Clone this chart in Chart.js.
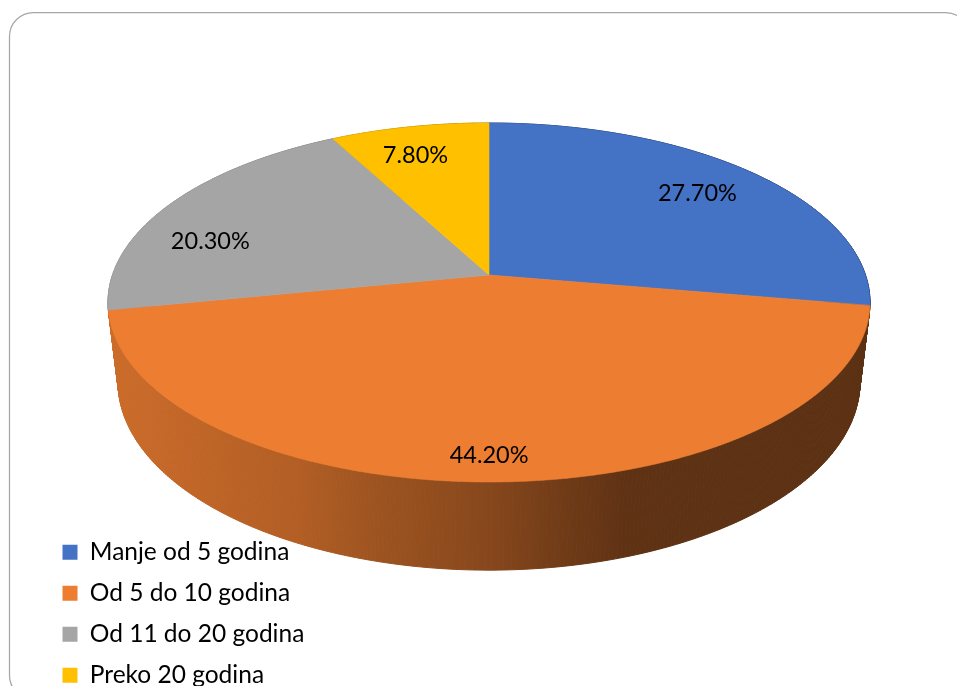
<!DOCTYPE html>
<html>
<head>
<meta charset="utf-8">
<script src="https://cdn.jsdelivr.net/npm/chart.js@4.4.1/dist/chart.umd.min.js"></script>
<style>
  html, body { margin: 0; padding: 0; background: #fff; overflow: hidden; }
</style>
</head>
<body>
<canvas id="staz" width="957" height="704"></canvas>
<script>
const categories = ["Manje od 5 godina", "Od 5 do 10 godina", "Od 11 do 20 godina", "Preko 20 godina"];
const shares = [27.7, 44.2, 20.3, 7.8];
const sliceColors = ["#4472C4", "#ED7D31", "#A5A5A5", "#FFC000"];

// tilted disc seen in perspective: top face and bottom face (canvas px)
const centerX = 489, tilt = -0.1532;
const topFace = { s: 376.5, a: 133.16, b: 275 };
const bottomFace = { s: 366.6, a: 129.7, b: 353.1 };

// where the % labels sit on the disc (radius fraction, angle nudge in deg)
const labelRadius = [0.78, 0.887, 0.787, 0.789];
const labelNudge = [0, 0.7, -11, -2];

// side wall shading, left to right (fraction of the slice colour)
const wallShade = [[0, 0.86], [0.25, 0.75], [0.36, 0.66], [0.5, 0.57], [0.6, 0.47], [0.68, 0.40], [1, 0.39]];

function project(face, u, v) {
  const w = 1 + tilt * v;
  return [centerX + face.s * u / w, (face.a * v + face.b) / w];
}

function darker(hex, f) {
  const n = parseInt(hex.slice(1), 16);
  const r = Math.round(((n >> 16) & 255) * f);
  const g = Math.round(((n >> 8) & 255) * f);
  const b = Math.round((n & 255) * f);
  return `rgb(${r},${g},${b})`;
}

const pie3d = {
  id: "pie3d",
  beforeDraw(chart) {
    const ctx = chart.ctx;
    ctx.save();
    ctx.strokeStyle = "#A6A6A6";
    ctx.lineWidth = 1.25;
    ctx.beginPath();
    ctx.roundRect(9.5, 12.5, 960, 687, 24);
    ctx.stroke();
    ctx.restore();
  },
  beforeDatasetsDraw(chart) {
    const ctx = chart.ctx;
    const arcs = chart.getDatasetMeta(0).data;
    const ds = chart.data.datasets[0];
    const half = topFace.s / Math.sqrt(1 - tilt * tilt);

    ctx.save();

    // side wall, back to front
    const walls = ds.backgroundColor.map(col => {
      const g = ctx.createLinearGradient(centerX - half, 0, centerX + half, 0);
      wallShade.forEach(([t, f]) => g.addColorStop(t, darker(col, f)));
      return g;
    });
    const quads = [];
    arcs.forEach((arc, i) => {
      const steps = Math.max(2, Math.ceil((arc.endAngle - arc.startAngle) / 0.01));
      const da = (arc.endAngle - arc.startAngle) / steps;
      for (let k = 0; k < steps; k++) {
        const a0 = arc.startAngle + k * da, a1 = a0 + da;
        quads.push({ i, a0, a1, depth: Math.sin(a0 + da / 2) });
      }
    });
    quads.sort((p, q) => p.depth - q.depth);
    ctx.lineWidth = 1;
    quads.forEach(q => {
      const t0 = project(topFace, Math.cos(q.a0), Math.sin(q.a0));
      const t1 = project(topFace, Math.cos(q.a1), Math.sin(q.a1));
      const b1 = project(bottomFace, Math.cos(q.a1), Math.sin(q.a1));
      const b0 = project(bottomFace, Math.cos(q.a0), Math.sin(q.a0));
      ctx.beginPath();
      ctx.moveTo(t0[0], t0[1]);
      ctx.lineTo(t1[0], t1[1]);
      ctx.lineTo(b1[0], b1[1]);
      ctx.lineTo(b0[0], b0[1]);
      ctx.closePath();
      ctx.fillStyle = walls[q.i];
      ctx.strokeStyle = walls[q.i];
      ctx.fill();
      ctx.stroke();
    });

    // top face slices
    const c = project(topFace, 0, 0);
    arcs.forEach((arc, i) => {
      ctx.beginPath();
      ctx.moveTo(c[0], c[1]);
      const steps = Math.max(2, Math.ceil((arc.endAngle - arc.startAngle) / 0.005));
      for (let k = 0; k <= steps; k++) {
        const a = arc.startAngle + (arc.endAngle - arc.startAngle) * k / steps;
        const p = project(topFace, Math.cos(a), Math.sin(a));
        ctx.lineTo(p[0], p[1]);
      }
      ctx.closePath();
      ctx.fillStyle = ds.backgroundColor[i];
      ctx.strokeStyle = ds.backgroundColor[i];
      ctx.lineWidth = 0.6;
      ctx.fill();
      ctx.stroke();
    });

    // percentage labels
    ctx.font = "23.5px Lato";
    ctx.fillStyle = "#000";
    ctx.textAlign = "center";
    ctx.textBaseline = "middle";
    arcs.forEach((arc, i) => {
      const mid = (arc.startAngle + arc.endAngle) / 2 + labelNudge[i] * Math.PI / 180;
      const p = project(topFace, labelRadius[i] * Math.cos(mid), labelRadius[i] * Math.sin(mid));
      ctx.fillText(ds.data[i].toFixed(2) + "%", p[0], p[1]);
    });

    ctx.restore();
    return false;
  }
};

new Chart(document.getElementById("staz"), {
  type: "pie",
  data: {
    labels: categories,
    datasets: [{
      data: shares,
      backgroundColor: sliceColors,
      borderWidth: 0
    }]
  },
  options: {
    responsive: false,
    animation: false,
    events: [],
    layout: { padding: { left: 46, top: 0, right: 0, bottom: 0 } },
    plugins: {
      tooltip: { enabled: false },
      legend: {
        position: "left",
        align: "end",
        labels: {
          boxWidth: 15,
          boxHeight: 15,
          padding: 16.5,
          color: "#000",
          font: { family: "Lato", size: 24.5 }
        }
      }
    }
  },
  plugins: [pie3d]
});
</script>
</body>
</html>
